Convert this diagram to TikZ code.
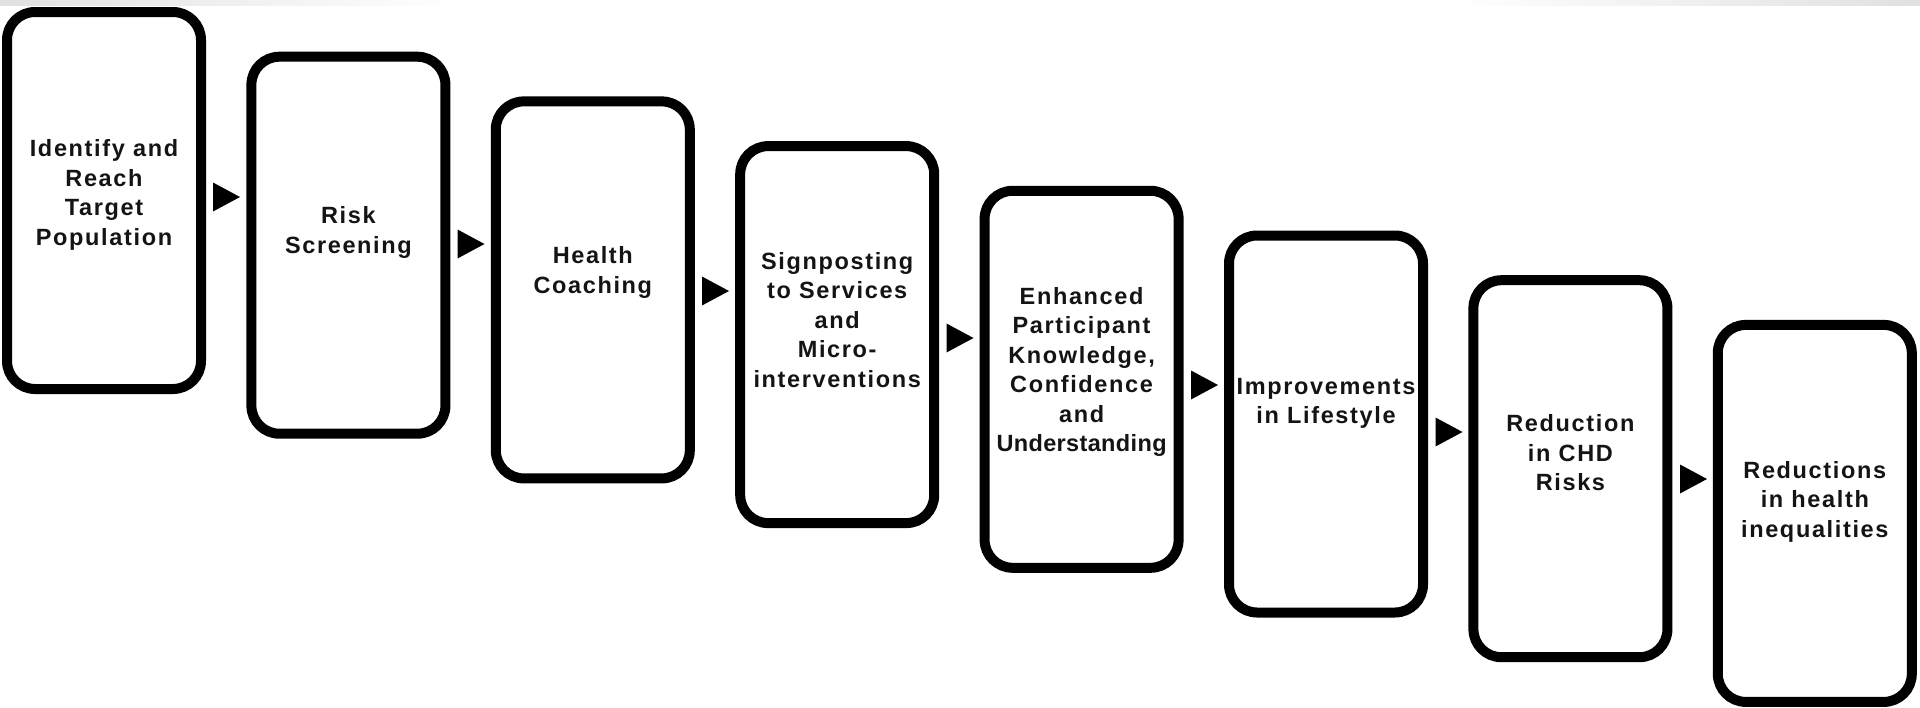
\documentclass[tikz,border=0pt]{standalone}
\usepackage{fontspec}
\setmainfont{Liberation Sans}[LetterSpace=7]
\newfontfamily\tightfont{Liberation Sans}[LetterSpace=1.5]
\usetikzlibrary{calc}
\begin{document}
\begin{tikzpicture}[x=1pt,y=-1pt,
  stage/.style={draw=black, line width=10pt, rounded corners=28pt,
    minimum width=194pt, minimum height=377pt, inner sep=0pt, fill=white},
  lbl/.style={align=center, font=\fontsize{23.5}{29.5}\selectfont\bfseries,
    text=black!92, inner sep=0pt},
  tri/.style={fill=black}]
\useasboundingbox (0,0) rectangle (1920,707);
\shade[left color=black!12, right color=white] (0,0) rectangle (460,5);
\shade[left color=white, right color=black!12] (1450,0) rectangle (1920,5);

\node[stage] (b1) at (104,200.5) {};
\node[stage] (b2) at (348.4,245.2) {};
\node[stage] (b3) at (592.8,289.9) {};
\node[stage] (b4) at (837.2,334.6) {};
\node[stage] (b5) at (1081.6,379.3) {};
\node[stage] (b6) at (1326,424) {};
\node[stage] (b7) at (1570.4,468.7) {};
\node[stage] (b8) at (1814.8,513.4) {};

\node[lbl] (t1) at ($(b1)+(0,-5.5)$) {Identify and\\Reach\\Target\\Population};
\node[lbl] (t2) at ($(b2)+(0,-12.5)$) {Risk\\Screening};
\node[lbl] (t3) at ($(b3)+(0,-17.5)$) {Health\\Coaching};
\node[lbl] (t4) at ($(b4)+(0,-15)$) {Signposting\\to Services\\and\\Micro-\\interventions};
\node[lbl] (t5) at ($(b5)+(0,-7.5)$) {Enhanced\\Participant\\Knowledge,\\Confidence\\and\\{\tightfont\bfseries Understanding}};
\node[lbl] (t6) at ($(b6)+(0,-20.5)$) {Improvements\\in Lifestyle};
\node[lbl] (t7) at ($(b7)+(0,-16)$) {Reduction\\in CHD\\Risks};
\node[lbl] (t8) at ($(b8)+(0,-11.5)$) {Reductions\\in health\\inequalities};

\coordinate (a1) at (226.5,197);
\coordinate (a2) at (471,244);
\coordinate (a3) at (715.5,291);
\coordinate (a4) at (960,338);
\coordinate (a5) at (1204.5,385);
\coordinate (a6) at (1449,432);
\coordinate (a7) at (1693.5,479);
\foreach \a in {a1,a2,a3,a4,a5,a6,a7}{
  \fill[tri] (\a) ++(-13.5,-14.5) -- ++(27,14.5) -- ++(-27,14.5) -- cycle;
}
\end{tikzpicture}
\end{document}
